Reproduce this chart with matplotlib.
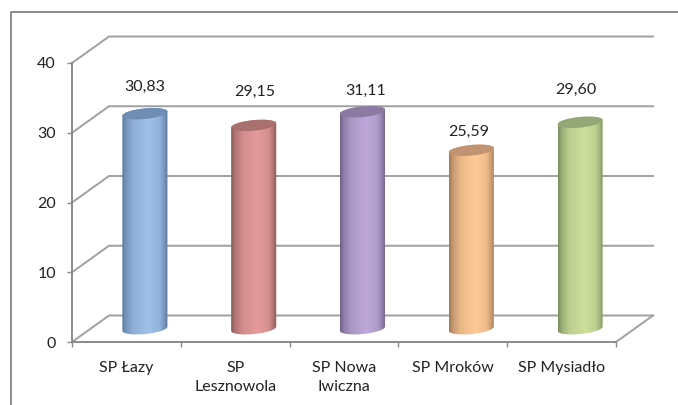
import numpy as np
import matplotlib
matplotlib.use("Agg")
import matplotlib.pyplot as plt
from matplotlib.colors import to_rgb
from matplotlib.lines import Line2D
from matplotlib.patches import PathPatch
from matplotlib.path import Path

plt.rcParams['font.family'] = ['Lato', 'DejaVu Sans']

schools = ['SP Łazy', 'SP\nLesznowola', 'SP Nowa\nIwiczna', 'SP Mroków', 'SP Mysiadło']
scores = [30.83, 29.15, 31.11, 25.59, 29.60]
score_labels = ['30,83', '29,15', '31,11', '25,59', '29,60']
y_ticks = [0, 10, 20, 30, 40]

# (edge, centre, top) colours of each cylinder
bar_colors = [
    ('#5A779C', '#9FC0E8', '#6F8CB3'),
    ('#8A5858', '#E69B9B', '#A97070'),
    ('#706188', '#BDA8D9', '#8B7BA3'),
    ('#A07955', '#FFCA96', '#C29372'),
    ('#7A8D5F', '#CDE09B', '#94A777'),
]
# label offset from the top of the bar, in points
label_offsets = [(0, 19), (1, 24), (2, 15), (-2, 13), (-3, 23)]

W, H = 678, 405
GRID = '#A0A0A0'
AXIS = '#8A8A8A'
TEXT = '#222222'

# fake 3D depth of the floor, in data units
DEPTH_X = 0.34
DEPTH_Y = 3.8
HALF_W = 0.207
ELL_H = 0.76
ELL_TILT = 0.3


def ellipse(cx, cy, t):
    return np.column_stack([cx + HALF_W * np.cos(t),
                            cy + ELL_H * np.sin(t) + ELL_TILT * np.cos(t)])


fig = plt.figure(figsize=(W / 100, H / 100), dpi=100)
ax = fig.add_axes([72 / W, (H - 342) / H, 544 / W, 279 / H])
ax.patch.set_visible(False)

# outer chart frame, only top and left are visible
fig.add_artist(Line2D([11 / W, 11 / W, 1], [0, 1 - 12 / H, 1 - 12 / H],
                      color='#8C8C8C', lw=1.4))

# walls
for v in y_ticks:
    ax.plot([0, DEPTH_X, 5 + DEPTH_X], [v, v + DEPTH_Y, v + DEPTH_Y],
            color=GRID, lw=1.4, clip_on=False, zorder=1)
ax.plot([5, 5 + DEPTH_X], [0, DEPTH_Y], color=GRID, lw=1.4, clip_on=False, zorder=1)

# cylinders
stops = [0, 0.08, 0.25, 0.58, 0.82, 0.93, 1]
for i, (val, cols) in enumerate(zip(scores, bar_colors)):
    edge, mid, top = cols
    cx = i + 0.5 + DEPTH_X / 2
    base = DEPTH_Y / 2
    head = val + DEPTH_Y / 2

    low = ellipse(cx, base, np.linspace(np.pi, 2 * np.pi, 40))
    up = ellipse(cx, head, np.linspace(0, np.pi, 40))
    body = PathPatch(Path(np.vstack([low, up, low[:1]])), fc='none', ec='none',
                     clip_on=False, zorder=2)
    ax.add_patch(body)

    e, m = np.array(to_rgb(edge)), np.array(to_rgb(mid))
    mix = [1, 0.6, 0.22, 0, 0.18, 0.6, 1]
    xs = np.linspace(0, 1, 90)
    w = np.interp(xs, stops, mix)[:, np.newaxis]
    grad = w * e + (1 - w) * m
    im = ax.imshow(grad[np.newaxis, :, :], aspect='auto', zorder=2, interpolation='bilinear',
                   extent=[cx - HALF_W, cx + HALF_W, base - 2, head + 2])
    im.set_clip_path(body)

    cap = ellipse(cx, head, np.linspace(0, 2 * np.pi, 80))
    ax.add_patch(PathPatch(Path(cap), fc=top, ec='none', clip_on=False, zorder=3))

    ax.annotate(score_labels[i], (cx, head), xytext=label_offsets[i],
                textcoords='offset points', ha='center', va='center',
                fontsize=11.5, color=TEXT, zorder=4)

ax.set_xlim(0, 5)
ax.set_ylim(0, 40)

for s in ('top', 'right'):
    ax.spines[s].set_visible(False)
for s in ('left', 'bottom'):
    ax.spines[s].set_color(AXIS)
    ax.spines[s].set_linewidth(1.4)

ax.set_yticks(y_ticks)
ax.tick_params(axis='y', length=3.5, width=1, color=AXIS, labelsize=11.5,
               labelcolor=TEXT, pad=8)
ax.set_xticks(range(6))
ax.set_xticklabels([])
ax.tick_params(axis='x', which='major', length=3.5, width=1, color=AXIS)
ax.set_xticks(np.arange(5) + 0.5, schools, minor=True)
ax.tick_params(axis='x', which='minor', length=0, pad=14, labelsize=11.5,
               labelcolor=TEXT)
for lab in ax.get_xticklabels(minor=True):
    lab.set_linespacing(1.4)

fig.savefig('out.png', dpi=100)
